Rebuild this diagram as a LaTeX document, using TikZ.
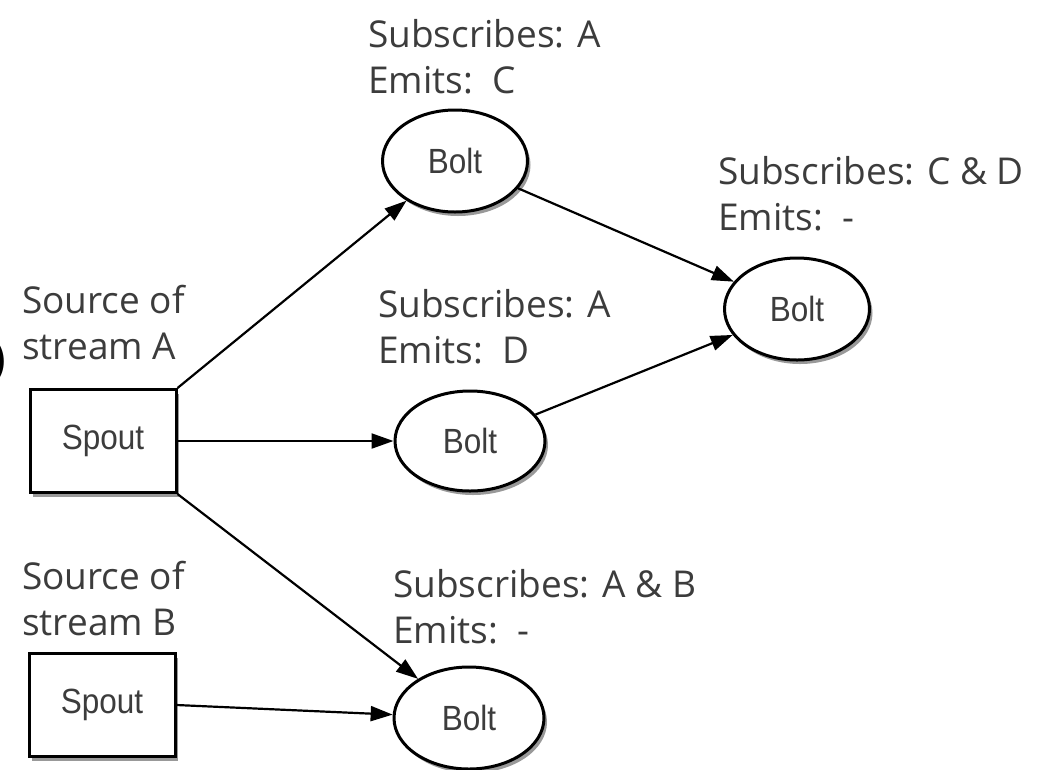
\documentclass[tikz,border=0pt]{standalone}
\usepackage{fontspec}
\setmainfont{Open Sans}
\newfontfamily\shapefont[FakeStretch=0.9]{Liberation Sans}
\usetikzlibrary{shapes.geometric,arrows.meta,shadows}

\definecolor{inkgray}{HTML}{3C3C3C}

\begin{document}
\begin{tikzpicture}[x=1pt,y=-1pt,
  notetext/.style={anchor=base west, align=left, inner sep=0pt,
    font=\fontsize{37}{46}\selectfont, text=inkgray},
  softshadow/.style={drop shadow={shadow xshift=3pt, shadow yshift=-4pt,
    opacity=0.4, fill=black}},
  spoutbox/.style={draw, line width=3pt, fill=white, inner sep=0pt,
    minimum width=146pt, minimum height=103pt,
    font=\shapefont\fontsize{35}{40}\selectfont, text=inkgray, softshadow},
  boltnode/.style={ellipse, draw, line width=3pt, fill=white, inner sep=0pt,
    font=\shapefont\fontsize{35}{40}\selectfont, text=inkgray, softshadow},
  link/.style={line width=2.2pt, -{Triangle[length=22pt,width=15pt]}}
]
\clip (0,0) rectangle (1048,769);
\fill[white] (0,0) rectangle (1048,769);

% stray glyph at the left margin
\node[anchor=east, inner sep=0pt, font=\fontsize{46}{46}\selectfont, text=black]
  (paren) at (6,362) {)};

% sources
\node[spoutbox] (spA) at (103,441) {Spout};
\node[spoutbox] (spB) at (102,705) {Spout};

% bolts
\node[boltnode, minimum width=145pt, minimum height=102pt] (bC)   at (455,161) {Bolt};
\node[boltnode, minimum width=150pt, minimum height=100pt] (bD)   at (470,441) {Bolt};
\node[boltnode, minimum width=145pt, minimum height=102pt] (bCD)  at (797,309) {Bolt};
\node[boltnode, minimum width=150pt, minimum height=102pt] (bAB)  at (469,718) {Bolt};

% annotations (anchored at the baseline of their last line)
\node[notetext] (tA)  at (22,359)  {Source of\\stream A};
\node[notetext] (tB)  at (22,635)  {Source of\\stream B};
\node[notetext] (tC)  at (368,93)  {Subscribes: A\\Emits:\ \ C};
\node[notetext] (tD)  at (378,363) {Subscribes: A\\Emits:\ \ D};
\node[notetext] (tCD) at (718,230) {Subscribes: C \& D\\Emits:\ \ -};
\node[notetext] (tAB) at (393,643) {Subscribes: A \& B\\Emits:\ \ -};

% streams
\draw[link] (spA.north east) -- (bC);
\draw[link] (spA.east) -- (bD);
\draw[link] (spA.south east) -- (bAB);
\draw[link] (spB.east) -- (bAB);
\draw[link] (bC) -- (bCD);
\draw[link] (bD) -- (bCD);
\end{tikzpicture}
\end{document}
